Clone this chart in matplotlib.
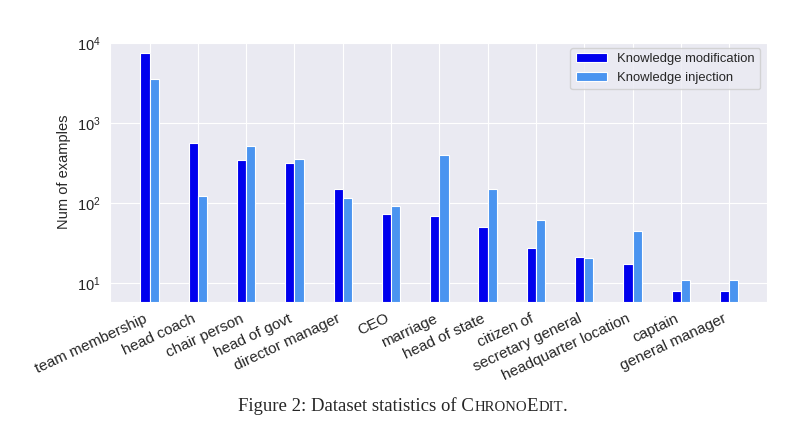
import numpy as np
import matplotlib
matplotlib.use("Agg")
import matplotlib.pyplot as plt
import seaborn as sns

# Data
relations = ['team membership', 'head coach', 'chair person', 'head of govt',
             'director manager', 'CEO', 'marriage', 'head of state', 'citizen of',
             'secretary general', 'headquarter location', 'captain', 'general manager']
modification = [7570, 557, 345, 316, 148, 73, 69, 50, 27, 21, 17, 8, 8]
injection = [3550, 122, 516, 352, 115, 92, 395, 150, 61, 20.5, 44, 11, 11]

sns.set_style('darkgrid')
plt.rcParams['font.family'] = ['Liberation Sans', 'DejaVu Sans']

fig = plt.figure(figsize=(8, 4.28), dpi=100)
ax = fig.add_axes([0.1375, 0.295, 0.821, 0.608])

x = np.arange(len(relations))
w = 0.19
ax.bar(x - w / 2, modification, w, color='#0000ee', edgecolor='white',
       linewidth=0.8, label='Knowledge modification')
ax.bar(x + w / 2, injection, w, color='#4a94f0', edgecolor='white',
       linewidth=0.8, label='Knowledge injection')

ax.set_yscale('log')
ax.set_ylim(5.8, 10500)
ax.set_xlim(-0.82, 12.78)
ax.set_xticks(x)
ax.set_xticklabels(relations, rotation=25, ha='right', fontsize=11)
ax.tick_params(axis='y', labelsize=10.5)
ax.minorticks_off()
ax.set_ylabel('Num of examples', fontsize=10.5)
ax.yaxis.set_label_coords(-0.06, 0.5)
ax.legend(loc='upper right', fontsize=9.4, frameon=True, handlelength=2.4)

# caption with small caps
cap_y = 0.04
fs_big, fs_small = 13.5, 10.6
parts = [('Figure 2: Dataset statistics of C', fs_big), ('HRONO', fs_small),
         ('E', fs_big), ('DIT', fs_small), ('.', fs_big)]
fig.canvas.draw()
r = fig.canvas.get_renderer()
texts = []
for s, fs in parts:
    t = fig.text(0, cap_y, s, fontsize=fs, family='Liberation Serif', va='baseline')
    texts.append(t)
widths = [t.get_window_extent(r).width for t in texts]
total = sum(widths)
xpos = (fig.bbox.width - total) / 2 + 3
for t, wd in zip(texts, widths):
    t.set_x(xpos / fig.bbox.width)
    xpos += wd

fig.savefig('out.png', dpi=100)
